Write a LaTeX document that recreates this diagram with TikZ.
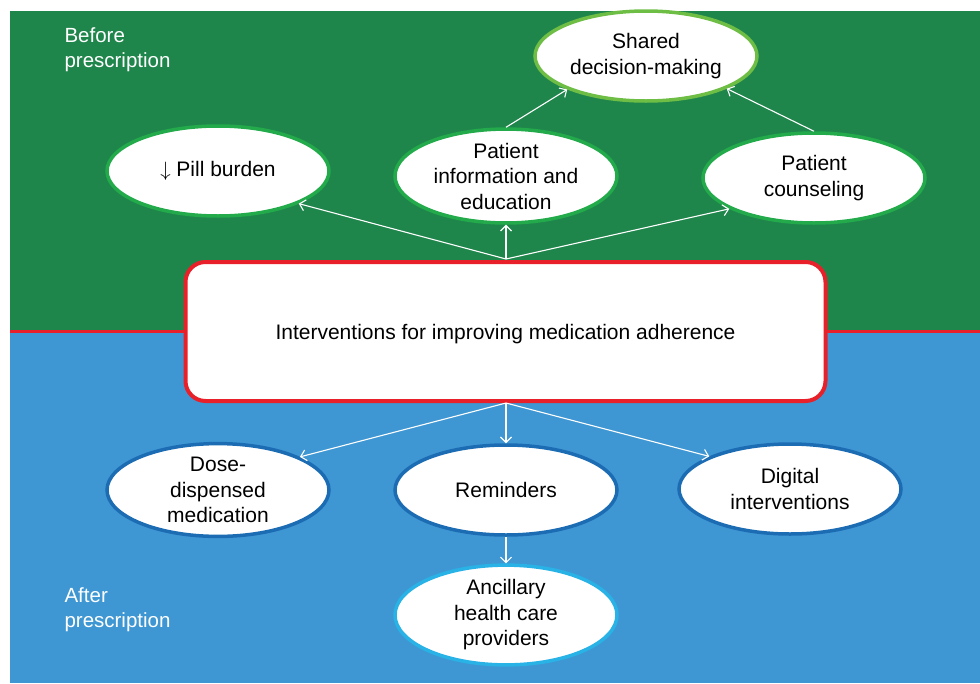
\documentclass[tikz,border=0pt]{standalone}
\usepackage{fontspec}
\setmainfont{Liberation Sans}
\usetikzlibrary{shapes.geometric,arrows.meta}
\definecolor{bggreen}{RGB}{31,134,75}
\definecolor{bgblue}{RGB}{62,151,211}
\definecolor{redline}{RGB}{232,32,42}
\definecolor{elgreen}{RGB}{34,170,75}
\definecolor{ellime}{RGB}{110,190,70}
\definecolor{elblue}{RGB}{28,108,180}
\definecolor{elcyan}{RGB}{41,178,230}
\begin{document}
\begin{tikzpicture}[x=1pt,y=-1pt,
  bub/.style={ellipse,fill=white,line width=3.5pt,minimum width=222pt,minimum height=90pt,inner sep=0pt,align=center,font=\fontsize{21}{25.5}\selectfont,text=black},
  conn/.style={draw=white,line width=1.1pt,-{Straight Barb[length=5.5pt,width=11pt,line width=1.1pt]}},
  side/.style={anchor=north west,align=left,text=white,font=\fontsize{20.5}{25.5}\selectfont}]
\useasboundingbox (0,0) rectangle (980,683);
\fill[bggreen] (10,11) rectangle (980,331);
\fill[bgblue] (10,331) rectangle (980,683);
\fill[redline] (10,329.5) rectangle (980,333);
\node[side] (before) at (61,24) {Before\\prescription};
\node[side] (after) at (61,584) {After\\prescription};
\node[draw=redline,fill=white,line width=4pt,rounded corners=20pt,minimum width=640pt,minimum height=139pt,font=\fontsize{21}{25.5}\selectfont] (main) at (505.5,331.5) {\raisebox{-8pt}[0pt][0pt]{Interventions for improving medication adherence}};
\node[bub,draw=elgreen] (pill) at (218,171) {$\downarrow$ Pill burden};
\node[bub,draw=elgreen] (info) at (506,176) {Patient\\information and\\education};
\node[bub,draw=elgreen] (couns) at (814,178) {Patient\\counseling};
\node[bub,draw=ellime] (shared) at (646,56) {Shared\\decision-making};
\node[bub,draw=elblue] (dose) at (218,490) {Dose-\\dispensed\\medication};
\node[bub,draw=elblue] (remind) at (506,490) {Reminders};
\node[bub,draw=elblue] (digital) at (790,489) {Digital\\interventions};
\node[bub,draw=elcyan] (ancil) at (506,615) {Ancillary\\health care\\providers};
\coordinate (mt) at (506,259);
\coordinate (mb) at (506,403);
\draw[conn] (mt) -- (pill.-22);
\draw[conn] (mt) -- (info.south);
\draw[conn] (mt) -- (couns.200);
\draw[conn] (info.north) -- (shared.203);
\draw[conn] (couns.north) -- (shared.-22);
\draw[conn] (mb) -- (dose.22);
\draw[conn] (mb) -- (remind.north);
\draw[conn] (mb) -- (digital.158);
\draw[conn] (remind.south) -- (ancil.north);
\end{tikzpicture}
\end{document}
